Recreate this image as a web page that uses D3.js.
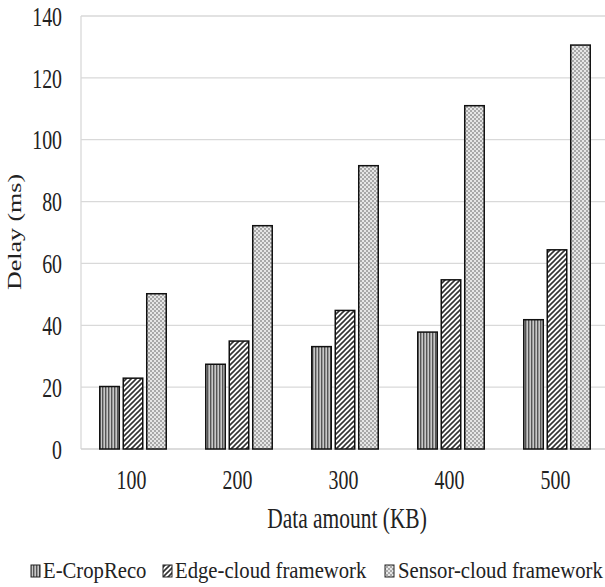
<!DOCTYPE html>
<html><head><meta charset="utf-8">
<script src="https://cdn.jsdelivr.net/npm/d3@7"></script>
<style>body{margin:0;background:#fff}svg{display:block}</style>
</head><body>
<script>
const categories = ["100","200","300","400","500"];
const series = ["E-CropReco","Edge-cloud framework","Sensor-cloud framework"];
const eCropReco = [20.2, 27.4, 33.1, 37.8, 41.8];
const edgeCloud = [22.9, 34.9, 44.8, 54.7, 64.4];
const sensorCloud = [50.2, 72.2, 91.6, 111.0, 130.6];
const yTicks = [0,20,40,60,80,100,120,140];
const values = [eCropReco, edgeCloud, sensorCloud];

const FONT = '"Liberation Serif"';
const W=605,H=587;
const svg=d3.select("body").append("svg").attr("width",W).attr("height",H);
const defs=svg.append("defs");
// patterns
const p1=defs.append("pattern").attr("id","pat0").attr("patternUnits","userSpaceOnUse").attr("width",3).attr("height",4);
p1.append("rect").attr("width",3).attr("height",4).attr("fill","#c8c8c8");
p1.append("rect").attr("width",1.4).attr("height",4).attr("fill","#555");
const p2=defs.append("pattern").attr("id","pat1").attr("patternUnits","userSpaceOnUse").attr("width",5).attr("height",5);
p2.append("rect").attr("width",5).attr("height",5).attr("fill","#fff");
p2.append("path").attr("d","M-1,6 L6,-1 M-1,1 L1,-1 M4,6 L6,4").attr("stroke","#333").attr("stroke-width",1.6);
const p3=defs.append("pattern").attr("id","pat2").attr("patternUnits","userSpaceOnUse").attr("width",4).attr("height",4);
p3.append("rect").attr("width",4).attr("height",4).attr("fill","#e6e6e6");
p3.append("rect").attr("width",2).attr("height",2).attr("fill","#a8a8a8");
p3.append("rect").attr("x",2).attr("y",2).attr("width",2).attr("height",2).attr("fill","#a8a8a8");

const mLeft=81, mTop=16, mBottom=449;
const y=d3.scaleLinear().domain([0,140]).range([mBottom,mTop]);
const x0=d3.scaleBand().domain(categories).range([mLeft-1,610]).paddingInner(0.373).paddingOuter(0.1865);
const x1=d3.scaleBand().domain(series).range([0,x0.bandwidth()]).paddingInner(0.17);

// grid
svg.append("g").selectAll("line").data(yTicks.filter(d=>d>0)).join("line")
 .attr("x1",mLeft).attr("x2",W).attr("y1",d=>y(d)).attr("y2",d=>y(d)).attr("stroke","#d9d9d9").attr("stroke-width",1.3);
svg.append("line").attr("x1",mLeft).attr("x2",mLeft).attr("y1",mTop).attr("y2",mBottom).attr("stroke","#d9d9d9").attr("stroke-width",1.3);
svg.append("line").attr("x1",mLeft).attr("x2",W).attr("y1",mBottom).attr("y2",mBottom).attr("stroke","#d0d0d0").attr("stroke-width",1.5);

// y axis labels
const ya=svg.append("g").attr("transform",`translate(62,0)`).call(d3.axisLeft(y).tickValues(yTicks).tickSize(0).tickPadding(0));
ya.select(".domain").remove();
ya.selectAll("text").style("font-family",FONT).style("font-size","28px").attr("fill","#222")
  .attr("dy","0.33em").attr("transform","scale(0.71,1)");
const xa=svg.append("g").attr("transform",`translate(-1.5,${mBottom})`).call(d3.axisBottom(x0).tickSize(0).tickPadding(0));
xa.select(".domain").remove();
xa.selectAll("text").style("font-family",FONT).style("font-size","28px").attr("fill","#222")
  .attr("y",40).attr("dy",0).attr("transform","scale(0.71,1)");

// bars
const g=svg.append("g");
categories.forEach((c,i)=>{
  series.forEach((s,j)=>{
    g.append("rect").attr("x",x0(c)+x1(s)).attr("y",y(values[j][i])).attr("width",x1.bandwidth())
     .attr("height",mBottom-y(values[j][i])).attr("fill",`url(#pat${j})`).attr("stroke","#111").attr("stroke-width",1.5);
  });
});

svg.append("text").attr("transform","translate(21,232) rotate(-90) scale(1,0.74)").attr("text-anchor","middle")
  .style("font-family",FONT).style("font-size","26px").attr("fill","#222").text("Delay (ms)");
svg.append("text").attr("transform","translate(347,528) scale(0.74,1)").attr("text-anchor","middle")
  .style("font-family",FONT).style("font-size","29px").attr("fill","#222").text("Data amount (KB)");

// legend
const leg=[{x:31,tx:43},{x:163,tx:175},{x:385,tx:398}];
series.forEach((s,j)=>{
  svg.append("rect").attr("x",leg[j].x).attr("y",565).attr("width",9).attr("height",12).attr("fill",`url(#pat${j})`).attr("stroke","#222").attr("stroke-width",1);
  svg.append("text").attr("transform",`translate(${leg[j].tx},578) scale(0.9,1)`)
    .style("font-family",FONT).style("font-size","23px").attr("fill","#222").text(s);
});
</script>
</body></html>
